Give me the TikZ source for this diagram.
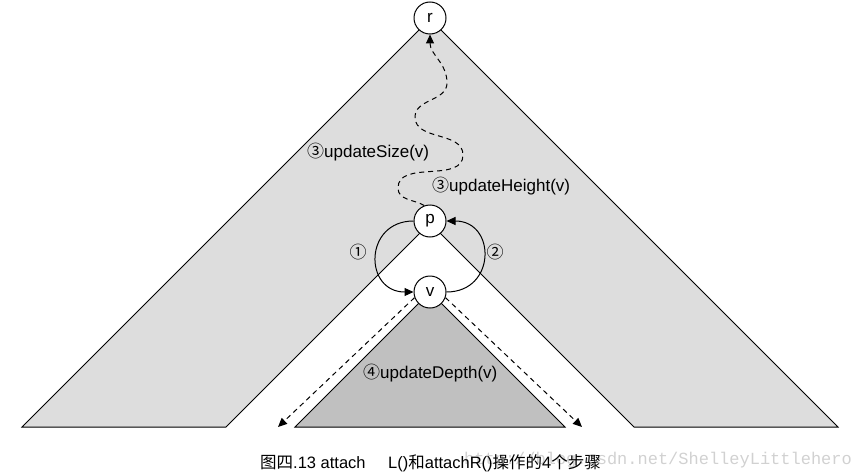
\documentclass[tikz,border=0pt]{standalone}
\usepackage{fontspec}
\setmainfont{Liberation Sans}
\newfontfamily\cjk{Noto Sans CJK SC}
\newfontfamily\wmfont{Liberation Mono}
\usetikzlibrary{arrows.meta}
\definecolor{TreeGray}{HTML}{DDDDDD}
\definecolor{SubGray}{HTML}{C0C0C0}

\begin{document}
\begin{tikzpicture}[x=1pt, y=1pt,
  vtx/.style={draw, circle, fill=white, line width=1pt, minimum size=32pt,
    inner sep=0pt, font=\fontsize{17}{20}\selectfont},
  lbl/.style={anchor=west, inner sep=0pt, font=\fontsize{17}{20}\selectfont},
  captxt/.style={anchor=west, inner sep=0pt, font=\fontsize{16.5}{19}\selectfont},
  arr/.style={-{Triangle[length=9pt, width=8pt]}, line width=1pt},
  darr/.style={arr, dash pattern=on 5pt off 4pt},
]
  \useasboundingbox (0,0) rectangle (866,475);

  % tree of r, with the subtree of p cut out
  \filldraw[fill=TreeGray, line width=1pt] (22,48) -- (430,456) -- (838,48)
    -- (634,48) -- (430,252) -- (226,48) -- cycle;
  % subtree of v
  \filldraw[fill=SubGray, line width=1pt] (295,48) -- (430,183) -- (565,48) -- cycle;

  \node[vtx] (r) at (430,457) {r};
  \node[vtx] (p) at (430,254) {p};
  \node[vtx] (v) at (430,183) {v};

  \coordinate (vl) at (278,48);
  \coordinate (vr) at (582,48);

  \draw[arr] (p.west) to[out=180, in=180, looseness=1.8] (v.west);
  \draw[arr] (v.east) to[out=0, in=0, looseness=1.8] (p.east);
  \draw[darr] (v.200) -- (vl);
  \draw[darr] (v.-20) -- (vr);
  \draw[darr] (p.110) to[out=150, in=-90] (398,287) to[out=90, in=-90] (463,320)
    to[out=90, in=-90] (415,358) to[out=90, in=-90] (447,392)
    to[out=90, in=-90] (r.south);

  \node[font=\fontsize{17}{20}\selectfont\cjk] (one) at (358,223) {①};
  \node[font=\fontsize{17}{20}\selectfont\cjk] (two) at (495,223) {②};
  \node[lbl] (size) at (307,323) {{\cjk ③}updateSize(v)};
  \node[lbl] (height) at (432,289) {{\cjk ③}updateHeight(v)};
  \node[lbl] (depth) at (363,102) {{\cjk ④}updateDepth(v)};

  % caption
  \node[captxt, text=black!18, font=\fontsize{17}{20}\selectfont\wmfont] (wmark) at (464,15)
    {http://blog.csdn.net/ShelleyLittlehero};
  \node[captxt] (capa) at (260,12) {{\cjk 图四}.13 attach};
  \node[captxt] (capb) at (388,12) {L(){\cjk 和}attachR(){\cjk 操作的}4{\cjk 个步骤}};
\end{tikzpicture}
\end{document}
